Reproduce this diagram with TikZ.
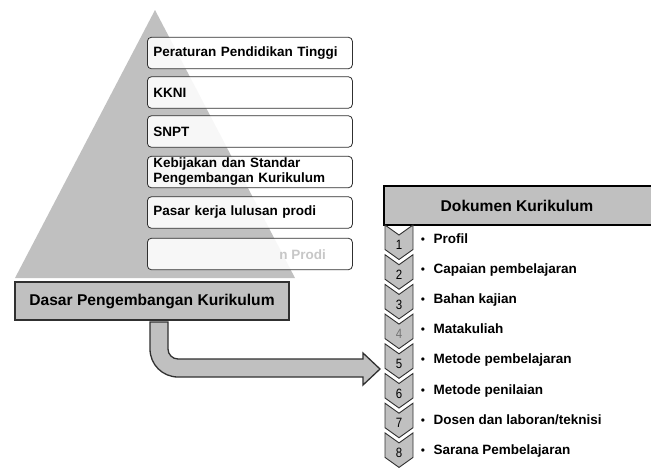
\documentclass[tikz,border=0pt]{standalone}
\usepackage{fontspec}
\setmainfont{Liberation Sans}
\newfontfamily\numfont[FakeStretch=0.85]{Liberation Sans}
\definecolor{pgray}{HTML}{C0C0C0}
\definecolor{edge}{HTML}{303030}
\tikzset{
  lbox/.style={draw=edge, line width=0.8pt, rounded corners=4pt, fill=white, fill opacity=0.88, text opacity=1,
    minimum width=205pt, minimum height=31.5pt, anchor=west, align=left, text width=193pt, inner xsep=6pt, inner ysep=0pt,
    font=\bfseries\fontsize{13.5}{15}\selectfont},
  headbox/.style={draw=edge, line width=1.3pt, fill=pgray, minimum width=274pt, minimum height=38pt, inner sep=0pt,
    font=\bfseries\fontsize{15.6}{17}\selectfont},
  dokbox/.style={draw=black, line width=1.6pt, fill=pgray, minimum width=300pt, minimum height=39pt, anchor=west, inner sep=0pt},
  headtext/.style={font=\bfseries\fontsize{15.6}{17}\selectfont, inner sep=0pt},
  chev/.style={draw=edge, line width=0.9pt, fill=pgray, line join=miter},
  numlbl/.style={font=\numfont\fontsize{13.5}{13.5}\selectfont, inner sep=0pt},
  itemtext/.style={font=\bfseries\fontsize{13.5}{15}\selectfont, inner sep=0pt, anchor=base west},
  bul/.style={font=\fontsize{12}{12}\selectfont, inner sep=0pt, anchor=base},
  barrow/.style={draw=edge, line width=1.3pt, fill=pgray, line join=miter}
}
\begin{document}
\begin{tikzpicture}[x=1pt,y=-1pt]
\useasboundingbox (0,0) rectangle (651,467);
\clip (0,0) rectangle (651,467);

% pyramid
\fill[pgray] (155,10) -- (295,278) -- (15,278) -- cycle;

% boxes
\node[lbox] (b1) at (147,53) {Peraturan Pendidikan Tinggi};
\node[lbox] (b2) at (147,92.5) {KKNI};
\node[lbox] (b3) at (147,131.5) {SNPT};
\node[lbox] (b4) at (147,172) {Kebijakan dan Standar\\Pengembangan Kurikulum};
\node[lbox] (b5) at (147,212.5) {Pasar kerja lulusan prodi};
\node[lbox] (b6) at (147,254) {};
\node[itemtext, text=black!22, anchor=base east] (b6t) at (326,259) {n Prodi};

% base box
\node[headbox] (dasar) at (152,301) {Dasar Pengembangan Kurikulum};

% dokumen box
\node[dokbox] (dok) at (383,205.5) {};
\node[headtext] (dokt) at (517,205.5) {Dokumen Kurikulum};

% chevrons
\foreach \i/\col in {1/black,2/black,3/black,4/black!55,5/black,6/black,7/black,8/black} {
  \pgfmathsetmacro\t{225+29.7*(\i-1)}
  \draw[chev] (385,\t) -- (399,\t+10) -- (413,\t) -- (413,\t+24.5) -- (399,\t+34.5) -- (385,\t+24.5) -- cycle;
  \node[numlbl, text=\col] (n\i) at (399,\t+20) {\i};
}

% items
\foreach \i/\txt in {1/{Profil},2/{Capaian pembelajaran},3/{Bahan kajian},4/{Matakuliah},5/{Metode pembelajaran},6/{Metode penilaian},7/{Dosen dan laboran/teknisi},8/{Sarana Pembelajaran}} {
  \pgfmathsetmacro\yy{243+30.2*(\i-1)}
  \node[bul] (bu\i) at (423,\yy) {\textbullet};
  \node[itemtext] (it\i) at (433.5,\yy) {\txt};
}

% bent block arrow from dasar to chevron 5
\coordinate (tip) at (380,369);
\draw[barrow] (150,322) -- (168,322) -- (168,349)
  .. controls (168,354.5) and (172.5,359) .. (178,359)
  -- (363,359) -- (363,353) -- (tip) -- (363,385) -- (363,377) -- (178,377)
  .. controls (162.5,377) and (150,364.5) .. (150,349) -- cycle;
\end{tikzpicture}
\end{document}
